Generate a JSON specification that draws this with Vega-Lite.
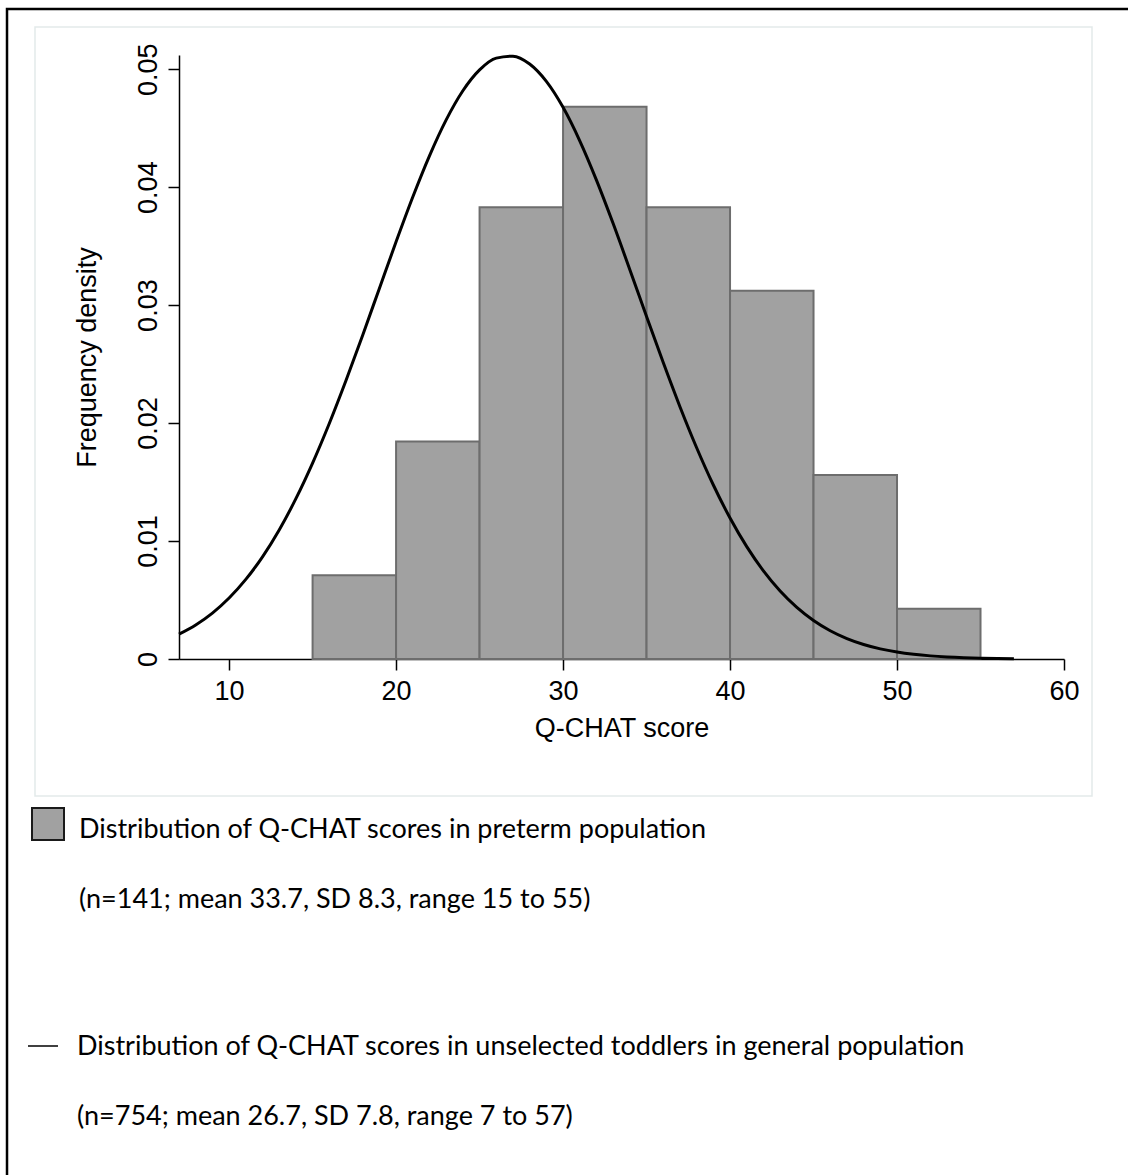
{
  "$schema": "https://vega.github.io/schema/vega-lite/v6.json",
  "width": 885,
  "height": 604,
  "autosize": {"type": "none"},
  "padding": {"left": 179, "top": 55, "right": 64, "bottom": 516},
  "background": "white",
  "config": {
    "view": {"stroke": null},
    "axis": {"grid": false, "labelFont": "Liberation Sans", "titleFont": "Liberation Sans", "labelColor": "#000", "titleColor": "#000", "domainColor": "#000", "tickColor": "#000", "domainWidth": 1.5, "tickWidth": 1.5, "tickSize": 11, "titleFontWeight": "normal"}
  },
  "datasets": {
    "bars": [
      {"x0": 15, "x1": 20, "density": 0.007092, "hist": "Distribution of Q-CHAT scores in preterm population|(n=141; mean 33.7, SD 8.3, range 15 to 55)"},
      {"x0": 20, "x1": 25, "density": 0.018440, "hist": "Distribution of Q-CHAT scores in preterm population|(n=141; mean 33.7, SD 8.3, range 15 to 55)"},
      {"x0": 25, "x1": 30, "density": 0.038298, "hist": "Distribution of Q-CHAT scores in preterm population|(n=141; mean 33.7, SD 8.3, range 15 to 55)"},
      {"x0": 30, "x1": 35, "density": 0.046809, "hist": "Distribution of Q-CHAT scores in preterm population|(n=141; mean 33.7, SD 8.3, range 15 to 55)"},
      {"x0": 35, "x1": 40, "density": 0.038298, "hist": "Distribution of Q-CHAT scores in preterm population|(n=141; mean 33.7, SD 8.3, range 15 to 55)"},
      {"x0": 40, "x1": 45, "density": 0.031206, "hist": "Distribution of Q-CHAT scores in preterm population|(n=141; mean 33.7, SD 8.3, range 15 to 55)"},
      {"x0": 45, "x1": 50, "density": 0.015603, "hist": "Distribution of Q-CHAT scores in preterm population|(n=141; mean 33.7, SD 8.3, range 15 to 55)"},
      {"x0": 50, "x1": 55, "density": 0.004255, "hist": "Distribution of Q-CHAT scores in preterm population|(n=141; mean 33.7, SD 8.3, range 15 to 55)"}
    ],
    "curve": [
      {"score": 7, "density": 0.002107, "curve": "Distribution of Q-CHAT scores in unselected toddlers in general population|(n=754; mean 26.7, SD 7.8, range 7 to 57)"},
      {"score": 8, "density": 0.002888, "curve": "Distribution of Q-CHAT scores in unselected toddlers in general population|(n=754; mean 26.7, SD 7.8, range 7 to 57)"},
      {"score": 9, "density": 0.003895, "curve": "Distribution of Q-CHAT scores in unselected toddlers in general population|(n=754; mean 26.7, SD 7.8, range 7 to 57)"},
      {"score": 10, "density": 0.005170, "curve": "Distribution of Q-CHAT scores in unselected toddlers in general population|(n=754; mean 26.7, SD 7.8, range 7 to 57)"},
      {"score": 11, "density": 0.006746, "curve": "Distribution of Q-CHAT scores in unselected toddlers in general population|(n=754; mean 26.7, SD 7.8, range 7 to 57)"},
      {"score": 12, "density": 0.008658, "curve": "Distribution of Q-CHAT scores in unselected toddlers in general population|(n=754; mean 26.7, SD 7.8, range 7 to 57)"},
      {"score": 13, "density": 0.010939, "curve": "Distribution of Q-CHAT scores in unselected toddlers in general population|(n=754; mean 26.7, SD 7.8, range 7 to 57)"},
      {"score": 14, "density": 0.013588, "curve": "Distribution of Q-CHAT scores in unselected toddlers in general population|(n=754; mean 26.7, SD 7.8, range 7 to 57)"},
      {"score": 15, "density": 0.016605, "curve": "Distribution of Q-CHAT scores in unselected toddlers in general population|(n=754; mean 26.7, SD 7.8, range 7 to 57)"},
      {"score": 16, "density": 0.019960, "curve": "Distribution of Q-CHAT scores in unselected toddlers in general population|(n=754; mean 26.7, SD 7.8, range 7 to 57)"},
      {"score": 17, "density": 0.023601, "curve": "Distribution of Q-CHAT scores in unselected toddlers in general population|(n=754; mean 26.7, SD 7.8, range 7 to 57)"},
      {"score": 18, "density": 0.027452, "curve": "Distribution of Q-CHAT scores in unselected toddlers in general population|(n=754; mean 26.7, SD 7.8, range 7 to 57)"},
      {"score": 19, "density": 0.031415, "curve": "Distribution of Q-CHAT scores in unselected toddlers in general population|(n=754; mean 26.7, SD 7.8, range 7 to 57)"},
      {"score": 20, "density": 0.035363, "curve": "Distribution of Q-CHAT scores in unselected toddlers in general population|(n=754; mean 26.7, SD 7.8, range 7 to 57)"},
      {"score": 21, "density": 0.039158, "curve": "Distribution of Q-CHAT scores in unselected toddlers in general population|(n=754; mean 26.7, SD 7.8, range 7 to 57)"},
      {"score": 22, "density": 0.042651, "curve": "Distribution of Q-CHAT scores in unselected toddlers in general population|(n=754; mean 26.7, SD 7.8, range 7 to 57)"},
      {"score": 23, "density": 0.045699, "curve": "Distribution of Q-CHAT scores in unselected toddlers in general population|(n=754; mean 26.7, SD 7.8, range 7 to 57)"},
      {"score": 24, "density": 0.048169, "curve": "Distribution of Q-CHAT scores in unselected toddlers in general population|(n=754; mean 26.7, SD 7.8, range 7 to 57)"},
      {"score": 25, "density": 0.049938, "curve": "Distribution of Q-CHAT scores in unselected toddlers in general population|(n=754; mean 26.7, SD 7.8, range 7 to 57)"},
      {"score": 26, "density": 0.050936, "curve": "Distribution of Q-CHAT scores in unselected toddlers in general population|(n=754; mean 26.7, SD 7.8, range 7 to 57)"},
      {"score": 27, "density": 0.051102, "curve": "Distribution of Q-CHAT scores in unselected toddlers in general population|(n=754; mean 26.7, SD 7.8, range 7 to 57)"},
      {"score": 28, "density": 0.050435, "curve": "Distribution of Q-CHAT scores in unselected toddlers in general population|(n=754; mean 26.7, SD 7.8, range 7 to 57)"},
      {"score": 29, "density": 0.048964, "curve": "Distribution of Q-CHAT scores in unselected toddlers in general population|(n=754; mean 26.7, SD 7.8, range 7 to 57)"},
      {"score": 30, "density": 0.046763, "curve": "Distribution of Q-CHAT scores in unselected toddlers in general population|(n=754; mean 26.7, SD 7.8, range 7 to 57)"},
      {"score": 31, "density": 0.043929, "curve": "Distribution of Q-CHAT scores in unselected toddlers in general population|(n=754; mean 26.7, SD 7.8, range 7 to 57)"},
      {"score": 32, "density": 0.040595, "curve": "Distribution of Q-CHAT scores in unselected toddlers in general population|(n=754; mean 26.7, SD 7.8, range 7 to 57)"},
      {"score": 33, "density": 0.036908, "curve": "Distribution of Q-CHAT scores in unselected toddlers in general population|(n=754; mean 26.7, SD 7.8, range 7 to 57)"},
      {"score": 34, "density": 0.033001, "curve": "Distribution of Q-CHAT scores in unselected toddlers in general population|(n=754; mean 26.7, SD 7.8, range 7 to 57)"},
      {"score": 35, "density": 0.029032, "curve": "Distribution of Q-CHAT scores in unselected toddlers in general population|(n=754; mean 26.7, SD 7.8, range 7 to 57)"},
      {"score": 36, "density": 0.025125, "curve": "Distribution of Q-CHAT scores in unselected toddlers in general population|(n=754; mean 26.7, SD 7.8, range 7 to 57)"},
      {"score": 37, "density": 0.021387, "curve": "Distribution of Q-CHAT scores in unselected toddlers in general population|(n=754; mean 26.7, SD 7.8, range 7 to 57)"},
      {"score": 38, "density": 0.017909, "curve": "Distribution of Q-CHAT scores in unselected toddlers in general population|(n=754; mean 26.7, SD 7.8, range 7 to 57)"},
      {"score": 39, "density": 0.014749, "curve": "Distribution of Q-CHAT scores in unselected toddlers in general population|(n=754; mean 26.7, SD 7.8, range 7 to 57)"},
      {"score": 40, "density": 0.011951, "curve": "Distribution of Q-CHAT scores in unselected toddlers in general population|(n=754; mean 26.7, SD 7.8, range 7 to 57)"},
      {"score": 41, "density": 0.009522, "curve": "Distribution of Q-CHAT scores in unselected toddlers in general population|(n=754; mean 26.7, SD 7.8, range 7 to 57)"},
      {"score": 42, "density": 0.007466, "curve": "Distribution of Q-CHAT scores in unselected toddlers in general population|(n=754; mean 26.7, SD 7.8, range 7 to 57)"},
      {"score": 43, "density": 0.005758, "curve": "Distribution of Q-CHAT scores in unselected toddlers in general population|(n=754; mean 26.7, SD 7.8, range 7 to 57)"},
      {"score": 44, "density": 0.004371, "curve": "Distribution of Q-CHAT scores in unselected toddlers in general population|(n=754; mean 26.7, SD 7.8, range 7 to 57)"},
      {"score": 45, "density": 0.003262, "curve": "Distribution of Q-CHAT scores in unselected toddlers in general population|(n=754; mean 26.7, SD 7.8, range 7 to 57)"},
      {"score": 46, "density": 0.002394, "curve": "Distribution of Q-CHAT scores in unselected toddlers in general population|(n=754; mean 26.7, SD 7.8, range 7 to 57)"},
      {"score": 47, "density": 0.001729, "curve": "Distribution of Q-CHAT scores in unselected toddlers in general population|(n=754; mean 26.7, SD 7.8, range 7 to 57)"},
      {"score": 48, "density": 0.001228, "curve": "Distribution of Q-CHAT scores in unselected toddlers in general population|(n=754; mean 26.7, SD 7.8, range 7 to 57)"},
      {"score": 49, "density": 0.000858, "curve": "Distribution of Q-CHAT scores in unselected toddlers in general population|(n=754; mean 26.7, SD 7.8, range 7 to 57)"},
      {"score": 50, "density": 0.000590, "curve": "Distribution of Q-CHAT scores in unselected toddlers in general population|(n=754; mean 26.7, SD 7.8, range 7 to 57)"},
      {"score": 51, "density": 0.000399, "curve": "Distribution of Q-CHAT scores in unselected toddlers in general population|(n=754; mean 26.7, SD 7.8, range 7 to 57)"},
      {"score": 52, "density": 0.000265, "curve": "Distribution of Q-CHAT scores in unselected toddlers in general population|(n=754; mean 26.7, SD 7.8, range 7 to 57)"},
      {"score": 53, "density": 0.000174, "curve": "Distribution of Q-CHAT scores in unselected toddlers in general population|(n=754; mean 26.7, SD 7.8, range 7 to 57)"},
      {"score": 54, "density": 0.000112, "curve": "Distribution of Q-CHAT scores in unselected toddlers in general population|(n=754; mean 26.7, SD 7.8, range 7 to 57)"},
      {"score": 55, "density": 0.000071, "curve": "Distribution of Q-CHAT scores in unselected toddlers in general population|(n=754; mean 26.7, SD 7.8, range 7 to 57)"},
      {"score": 56, "density": 0.000044, "curve": "Distribution of Q-CHAT scores in unselected toddlers in general population|(n=754; mean 26.7, SD 7.8, range 7 to 57)"},
      {"score": 57, "density": 0.000027, "curve": "Distribution of Q-CHAT scores in unselected toddlers in general population|(n=754; mean 26.7, SD 7.8, range 7 to 57)"}
    ]
  },
  "layer": [
    {
      "data": {"values": [{}]},
      "mark": {"type": "rect", "fill": null, "stroke": "#000000", "strokeWidth": 2.5, "clip": false},
      "encoding": {
        "x": {"datum": -3.30, "type": "quantitative", "scale": {"domain": [7, 60], "nice": false, "zero": false}},
        "x2": {"datum": 70},
        "y": {"datum": 0.0551, "type": "quantitative", "scale": {"domain": [0, 0.0512], "nice": false, "zero": false}},
        "y2": {"datum": -0.06}
      }
    },
    {
      "data": {"values": [{}]},
      "mark": {"type": "rect", "fill": null, "stroke": "#e3eaea", "strokeWidth": 1.5, "clip": false},
      "encoding": {
        "x": {"datum": -1.624, "type": "quantitative"},
        "x2": {"datum": 61.677},
        "y": {"datum": 0.05357, "type": "quantitative"},
        "y2": {"datum": -0.011613}
      }
    },
    {
      "data": {"name": "bars"},
      "mark": {"type": "rect", "stroke": "#6d6d6d", "strokeWidth": 2},
      "encoding": {
        "x": {"field": "x0", "type": "quantitative",
          "axis": {"values": [10, 20, 30, 40, 50, 60], "title": "Q-CHAT score", "labelFontSize": 27, "titleFontSize": 27, "labelPadding": 8, "titlePadding": 11, "labelFlush": false}},
        "x2": {"field": "x1"},
        "y": {"field": "density", "type": "quantitative",
          "axis": {"values": [0, 0.01, 0.02, 0.03, 0.04, 0.05], "format": ".2~f", "title": "Frequency density", "labelFontSize": 27, "titleFontSize": 27, "labelAngle": 270, "labelAlign": "center", "labelBaseline": "alphabetic", "labelPadding": 12, "titlePadding": 33, "labelFlush": false}},
        "y2": {"datum": 0},
        "fill": {"field": "hist", "type": "nominal", "scale": {"range": ["#a1a1a1"]},
          "legend": {"orient": "none", "legendX": -148, "legendY": 752, "title": null, "padding": 0,
            "symbolType": "square", "symbolSize": 1024, "symbolStrokeColor": "#1a1a1a", "symbolStrokeWidth": 2,
            "labelFont": "Lato", "labelFontSize": 27, "labelColor": "#000", "labelLimit": 1200, "labelOffset": 14,
            "labelBaseline": "top", "labelExpr": "split(datum.label, '|')",
            "encode": {"labels": {"update": {"lineHeight": {"value": 70}, "dy": {"value": -7}}}}}}
      }
    },
    {
      "data": {"name": "curve"},
      "mark": {"type": "line", "strokeWidth": 3, "interpolate": "monotone"},
      "encoding": {
        "x": {"field": "score", "type": "quantitative"},
        "y": {"field": "density", "type": "quantitative"},
        "stroke": {"field": "curve", "type": "nominal", "scale": {"range": ["#000000"]},
          "legend": {"orient": "none", "legendX": -152, "legendY": 975, "title": null, "padding": 0,
            "symbolType": "stroke", "symbolSize": 900, "symbolStrokeWidth": 1.5,
            "labelFont": "Lato", "labelFontSize": 27, "labelColor": "#000", "labelLimit": 1200, "labelOffset": 18,
            "labelBaseline": "top", "labelExpr": "split(datum.label, '|')",
            "encode": {"labels": {"update": {"lineHeight": {"value": 70}, "dy": {"value": -12}}}}}}
      }
    }
  ]
}
